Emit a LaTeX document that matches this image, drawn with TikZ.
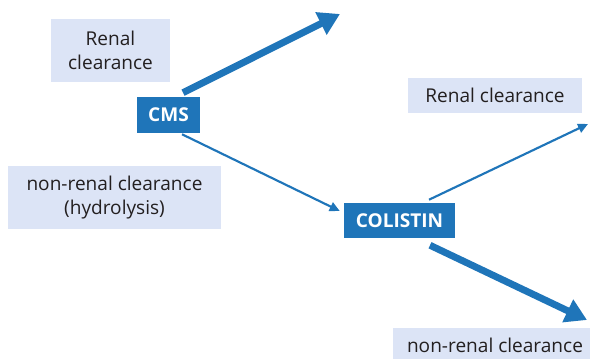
\documentclass[tikz,border=0pt]{standalone}
\usepackage{fontspec}
\setmainfont{Open Sans}
\usetikzlibrary{arrows.meta,calc}
\definecolor{dblue}{HTML}{1F75B9}
\definecolor{lblue}{HTML}{DCE4F6}
\definecolor{txt}{HTML}{231F20}
\begin{document}
\begin{tikzpicture}[x=0.75pt,y=-0.75pt,
  lbox/.style={fill=lblue, inner sep=0pt, align=center, text=txt, font=\fontsize{14.3}{18.3}\selectfont},
  dbox/.style={fill=dblue, inner sep=0pt, text=white, font=\bfseries\fontsize{14.3}{16}\selectfont},
  bigarrow/.style={draw=dblue, line width=5.2pt, -{Triangle[length=16pt,width=18pt]}},
  smallarrow/.style={draw=dblue, line width=1.6pt, -{Triangle[length=7.5pt,width=7pt]}}]
\useasboundingbox (0,0) rectangle (590,359);
\node[lbox, minimum width=89.25pt, minimum height=47.25pt] (rc1) at (110.5,50.5) {Renal\\clearance};
\node[dbox, minimum width=47.25pt, minimum height=27pt] (cms) at (168.5,115) {CMS};
\node[lbox, minimum width=159.75pt, minimum height=47.25pt] (nr1) at (114.5,197.5) {non-renal clearance\\(hydrolysis)};
\node[dbox, minimum width=83.25pt, minimum height=26.25pt] (col) at (399.5,220.5) {COLISTIN};
\node[lbox, minimum width=130.5pt, minimum height=26.25pt] (rc2) at (495,95.5) {Renal clearance};
\node[lbox, minimum width=153pt, minimum height=26.25pt] (nr2) at (495,345.5) {non-renal clearance};
\coordinate (t1) at (340,14);
\coordinate (t3) at (588,124);
\coordinate (t4) at (587,320);
\draw[bigarrow] ($(cms.north)+(14.5,-4)$) -- (t1);
\draw[smallarrow] ($(cms.south)+(13.5,1)$) -- ($(col.west)+(-4,-9.5)$);
\draw[smallarrow] ($(col.north)+(29.5,-3)$) -- (t3);
\draw[bigarrow] ($(col.south)+(30.5,7)$) -- (t4);
\end{tikzpicture}
\end{document}
